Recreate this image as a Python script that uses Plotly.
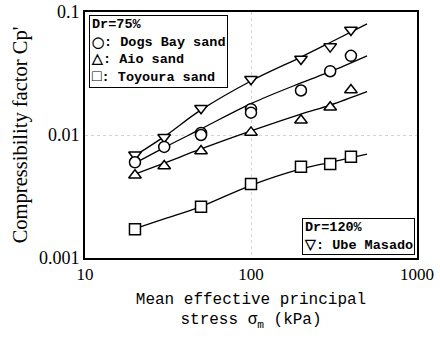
import plotly.graph_objects as go

# ---- data ----
stress = [20, 30, 50, 100, 200, 300, 400]
dogs_bay = [0.0060, 0.0080, 0.0104, 0.0162, 0.0230, 0.0330, 0.0440]
dogs_bay_rep_x = [50, 100]
dogs_bay_rep = [0.0100, 0.0152]
aio = [0.0047, 0.0056, 0.0074, 0.0105, 0.0132, 0.0168, 0.0232]
ube = [0.0069, 0.0096, 0.0165, 0.0284, 0.0415, 0.0523, 0.0714]
toyoura_x = [20, 50, 100, 200, 300, 400]
toyoura = [0.00171, 0.00261, 0.0040, 0.00552, 0.0058, 0.00667]

fit_x = [20, 30, 50, 100, 200, 300, 500]
ube_fit = [0.0068, 0.0097, 0.0160, 0.0275, 0.0430, 0.0565, 0.0800]
dogs_fit = [0.0059, 0.0079, 0.0112, 0.0180, 0.0265, 0.0327, 0.0440]
aio_fit = [0.0048, 0.0059, 0.0077, 0.0108, 0.0148, 0.0175, 0.0225]
toy_fit = [0.00173, 0.00208, 0.00262, 0.0039, 0.0053, 0.0060, 0.0070]

x_ticks = [10, 100, 1000]
x_ticklabels = ["10", "100", "1000"]
y_ticks = [0.001, 0.01, 0.1]
y_ticklabels = ["0.001", "0.01", "0.1"]

fig = go.Figure()

line_style = dict(color="black", width=1.3, shape="spline")
for fy in [ube_fit, dogs_fit, aio_fit, toy_fit]:
    fig.add_trace(go.Scatter(x=fit_x, y=fy, mode="lines", line=line_style,
                             showlegend=False, hoverinfo="skip"))

def markers(x, y, symbol, name):
    fig.add_trace(go.Scatter(
        x=x, y=y, mode="markers", name=name, showlegend=False,
        marker=dict(symbol=symbol, size=11, color="white",
                    line=dict(color="black", width=1.5))))

markers(stress, ube, "triangle-down", "Ube Masado")
markers(stress, dogs_bay, "circle", "Dogs Bay sand")
markers(dogs_bay_rep_x, dogs_bay_rep, "circle", "Dogs Bay sand")
markers(stress, aio, "triangle-up", "Aio sand")
markers(toyoura_x, toyoura, "square", "Toyoura sand")

mono = "Liberation Mono"
serif = "Liberation Serif"
circ = '<span style="font-size:11px">◯</span>'
sq = '<span style="font-size:16px">□</span>'

fig.add_annotation(
    xref="paper", yref="paper", x=0.012, y=0.988, xanchor="left", yanchor="top",
    align="left", showarrow=False, bgcolor="white", bordercolor="black",
    borderwidth=1, borderpad=1,
    text=("<b>Dr=75%<br>" + circ + ": Dogs Bay sand<br>"
          + "△: Aio sand<br>" + sq + ": Toyoura sand</b>"),
    font=dict(family=mono, size=13.5, color="black"))
fig.add_annotation(
    xref="paper", yref="paper", x=0.994, y=0.012, xanchor="right", yanchor="bottom",
    align="left", showarrow=False, bgcolor="white", bordercolor="black",
    borderwidth=1, borderpad=1,
    text="<b>Dr=120%<br>▽: Ube Masado</b>",
    font=dict(family=mono, size=13.5, color="black"))

grid = dict(showgrid=True, gridcolor="#d4d4d4", griddash="dot", gridwidth=1)

fig.update_xaxes(
    type="log", range=[1, 3], tickvals=x_ticks, ticktext=x_ticklabels,
    showline=True, linecolor="black", linewidth=2, mirror=True, ticks="",
    automargin=False,
    tickfont=dict(family=serif, size=17, color="black"),
    title=dict(text="Mean effective principal<br>stress σ<sub>m</sub> (kPa)",
               font=dict(family=mono, size=16, color="black"), standoff=9),
    zeroline=False, **grid)
fig.update_yaxes(
    type="log", range=[-3, -1], tickvals=y_ticks, ticktext=y_ticklabels,
    showline=True, linecolor="black", linewidth=2, mirror=True, ticks="",
    automargin=False,
    tickfont=dict(family=serif, size=18, color="black"),
    title=dict(text="Compressibility factor Cp'",
               font=dict(family=serif, size=20.5, color="black"), standoff=6),
    zeroline=False, **grid)

fig.update_layout(
    width=440, height=339,
    margin=dict(l=85, r=23, t=12, b=81),
    paper_bgcolor="white", plot_bgcolor="white",
    showlegend=False,
)

fig.write_html("out.html", config={"displayModeBar": False},
               post_script="document.body.style.margin='0';")
